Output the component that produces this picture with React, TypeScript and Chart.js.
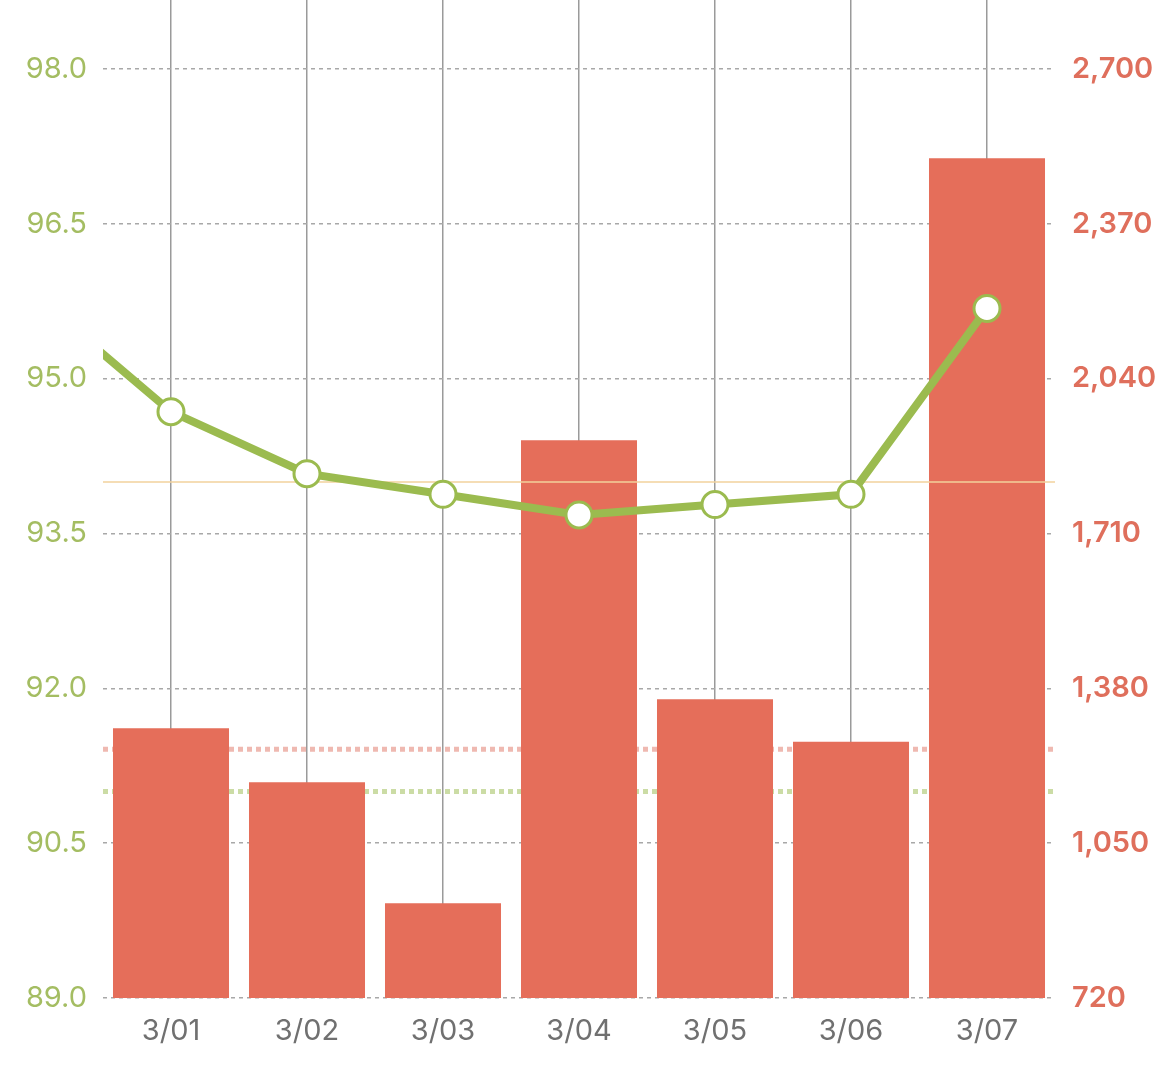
import React, { useEffect, useRef } from 'react';
import { Chart, registerables } from 'chart.js';

Chart.register(...registerables);

// 3/00 and 3/08 sit just outside the visible range so the line runs off both edges
const labels = ['3/00', '3/01', '3/02', '3/03', '3/04', '3/05', '3/06', '3/07', '3/08'];
const barValues = [null, 1295, 1180, 922, 1909, 1357, 1266, 2510, null];
const lineValues = [95.8, 94.68, 94.08, 93.88, 93.68, 93.78, 93.88, 95.68, 94.45];

const leftTicks = [89.0, 90.5, 92.0, 93.5, 95.0, 96.5, 98.0];
const rightTicks = [720, 1050, 1380, 1710, 2040, 2370, 2700];

const targetLine = 94.0; // left axis
const pinkAvg = 1250; // right axis
const greenAvg = 91.0; // left axis

const GREEN = '#9bbb4f';
const RED = '#e56e5a';
const FONT = 'Inter, "Noto Sans", sans-serif';

// the top of the plot sits a bit above the last tick
const headroom = 0.4457;
const leftMax = leftTicks[leftTicks.length - 1] + 1.5 * headroom;
const rightMax = rightTicks[rightTicks.length - 1] + 330 * headroom;

const refLines = {
  id: 'refLines',
  beforeDatasetsDraw(chart: any) {
    const { ctx, chartArea, scales } = chart;
    const draw = (y: number, color: string) => {
      ctx.save();
      ctx.strokeStyle = color;
      ctx.lineWidth = 5;
      ctx.setLineDash([5, 4]);
      ctx.beginPath();
      ctx.moveTo(chartArea.left, y);
      ctx.lineTo(chartArea.right, y);
      ctx.stroke();
      ctx.restore();
    };
    draw(scales.y2.getPixelForValue(pinkAvg), '#efb9b1');
    draw(scales.y.getPixelForValue(greenAvg), '#cbdca5');
  },
  afterDatasetDraw(chart: any, args: any) {
    if (args.index !== 0) return;
    const { ctx, chartArea, scales } = chart;
    const y = scales.y.getPixelForValue(targetLine);
    ctx.save();
    ctx.strokeStyle = '#f2d29c';
    ctx.lineWidth = 1.5;
    ctx.beginPath();
    ctx.moveTo(chartArea.left, y);
    ctx.lineTo(chartArea.right, y);
    ctx.stroke();
    ctx.restore();
  },
};

const fitY = (width: number) => (s: any) => {
  s.width = width;
  s.paddingTop = 0;
  s.paddingBottom = 0;
};

const App: React.FC = () => {
  const chartRef = useRef<HTMLCanvasElement | null>(null);
  const chartInstanceRef = useRef<Chart | null>(null);

  useEffect(() => {
    document.body.style.margin = '0';
    if (!chartRef.current) return;

    chartInstanceRef.current = new Chart(chartRef.current, {
      type: 'bar',
      data: {
        labels,
        datasets: [
          {
            type: 'bar',
            data: barValues,
            yAxisID: 'y2',
            backgroundColor: RED,
            categoryPercentage: 1,
            barPercentage: 0.853,
            order: 1,
          } as any,
          {
            type: 'line',
            data: lineValues,
            yAxisID: 'y',
            borderColor: GREEN,
            borderWidth: 8,
            tension: 0,
            pointRadius: 13,
            pointBorderWidth: 3,
            pointBackgroundColor: '#ffffff',
            pointBorderColor: GREEN,
            order: 0,
          },
        ],
      },
      options: {
        animation: false,
        responsive: true,
        maintainAspectRatio: false,
        layout: { padding: 0, autoPadding: false },
        plugins: {
          legend: { display: false },
          tooltip: { enabled: false },
        },
        scales: {
          x: {
            min: '3/01',
            max: '3/07',
            offset: true,
            grid: { offset: false, color: '#9a9a9a', lineWidth: 1.5, drawTicks: false },
            border: { display: false },
            ticks: { color: '#707070', font: { family: FONT, size: 29 }, padding: 16 },
            afterFit: (s: any) => { s.height = 78; s.paddingLeft = 0; s.paddingRight = 0; },
          },
          y: {
            position: 'left',
            min: leftTicks[0],
            max: leftMax,
            afterBuildTicks: (s: any) => { s.ticks = leftTicks.map(v => ({ value: v })); },
            grid: { color: '#a8a8a8', lineWidth: 1.5, drawTicks: false },
            border: { display: false, dash: [4, 4] },
            ticks: {
              color: '#a4bd62',
              font: { family: FONT, size: 29, lineHeight: 0.1 },
              padding: 16,
              callback: (v: any) => Number(v).toFixed(1),
            },
            afterFit: fitY(103),
          },
          y2: {
            position: 'right',
            min: rightTicks[0],
            max: rightMax,
            afterBuildTicks: (s: any) => { s.ticks = rightTicks.map(v => ({ value: v })); },
            grid: { display: false, drawTicks: false },
            border: { display: false },
            ticks: {
              color: '#df6f5c',
              font: { family: FONT, size: 29, weight: 600, lineHeight: 0.1 },
              padding: 17,
              callback: (v: any) => Number(v).toLocaleString('en-US'),
            },
            afterFit: fitY(114),
          },
        },
      },
      plugins: [refLines],
    });

    return () => {
      if (chartInstanceRef.current) {
        chartInstanceRef.current.destroy();
        chartInstanceRef.current = null;
      }
    };
  }, []);

  return (
    <div style={{ width: 1169, height: 1076, background: '#fff' }}>
      <canvas ref={chartRef} />
    </div>
  );
};

export default App;
